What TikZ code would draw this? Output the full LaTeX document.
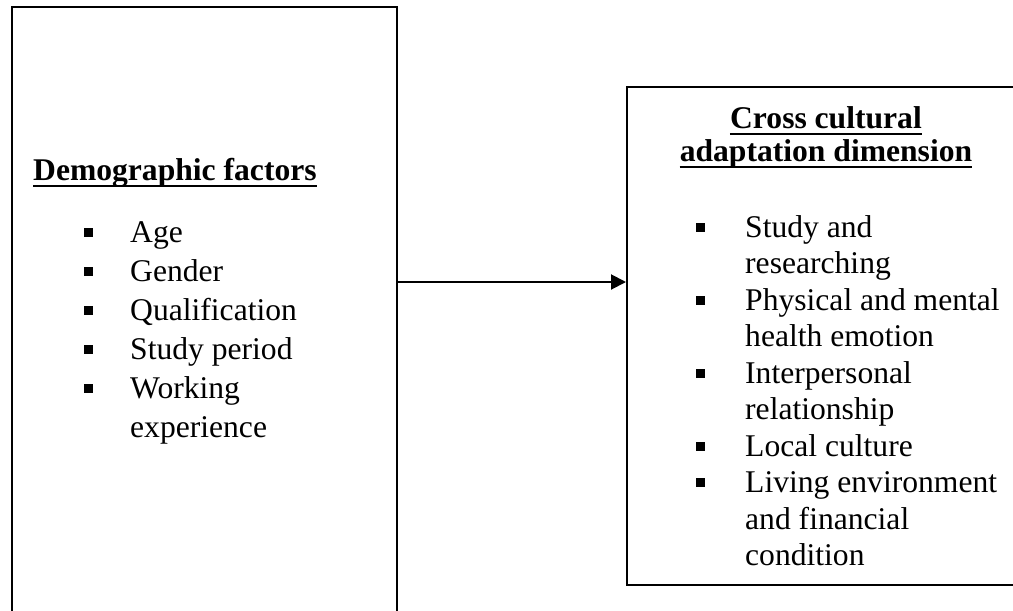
\documentclass[tikz,border=0pt]{standalone}
\usepackage{fontspec}
\setmainfont{Liberation Serif}
\usetikzlibrary{arrows.meta,calc}
\begin{document}
\begin{tikzpicture}[x=1pt,y=-1pt,
  box/.style={draw,line width=2pt,inner sep=0pt,outer sep=0pt,anchor=north west},
  txt/.style={anchor=base west,inner sep=0pt,font=\fontsize{31.6}{36}\selectfont},
  ttl/.style={anchor=base,inner sep=0pt,font=\fontsize{31.6}{36}\selectfont\bfseries},
  bul/.style={fill=black,inner sep=0pt,minimum size=9pt},
  ul/.style={line width=2pt},
  conn/.style={line width=2pt,-{Triangle[length=15pt,width=15pt]},shorten >=1pt}]
\clip (0,0) rectangle (1013,611);
% boxes
\node[box,minimum width=385pt,minimum height=640pt] (lbox) at (12,7) {};
\node[box,minimum width=400pt,minimum height=498pt] (rbox) at (627,87) {};
% connector
\coordinate (ay) at (0,282);
\draw[conn] (lbox.east |- ay) -- (rbox.west |- ay);
% left title
\node[ttl,anchor=base west] (lt) at (33,180) {Demographic factors};
\draw[ul] ($(lt.base west)+(0,6)$) -- ($(lt.base east)+(0,6)$);
% left items
\node[txt] (l1) at (130,242) {Age};
\node[txt] (l2) at (130,281) {Gender};
\node[txt] (l3) at (130,320) {Qualification};
\node[txt] (l4) at (130,359) {Study period};
\node[txt] (l5) at (130,398) {Working};
\node[txt] (l6) at (130,437) {experience};
\node[bul] (lb1) at (88,232) {};
\node[bul] (lb2) at (88,271) {};
\node[bul] (lb3) at (88,310) {};
\node[bul] (lb4) at (88,349) {};
\node[bul] (lb5) at (88,388) {};
% right title
\node[ttl] (rt1) at (826,128) {Cross cultural};
\draw[ul] ($(rt1.base west)+(0,6)$) -- ($(rt1.base east)+(0,6)$);
\node[ttl] (rt2) at (826,161) {adaptation dimension};
\draw[ul] ($(rt2.base west)+(0,6)$) -- ($(rt2.base east)+(0,6)$);
% right items
\node[txt] (r1) at (745,237) {Study and};
\node[txt] (r2) at (745,273.5) {researching};
\node[txt] (r3) at (745,310) {Physical and mental};
\node[txt] (r4) at (745,346.5) {health emotion};
\node[txt] (r5) at (745,383) {Interpersonal};
\node[txt] (r6) at (745,419.5) {relationship};
\node[txt] (r7) at (745,456) {Local culture};
\node[txt] (r8) at (745,492.5) {Living environment};
\node[txt] (r9) at (745,529) {and financial};
\node[txt] (r10) at (745,565.5) {condition};
\node[bul] (rb1) at (700,227) {};
\node[bul] (rb2) at (700,300) {};
\node[bul] (rb3) at (700,373) {};
\node[bul] (rb4) at (700,446) {};
\node[bul] (rb5) at (700,482.5) {};
\end{tikzpicture}
\end{document}
